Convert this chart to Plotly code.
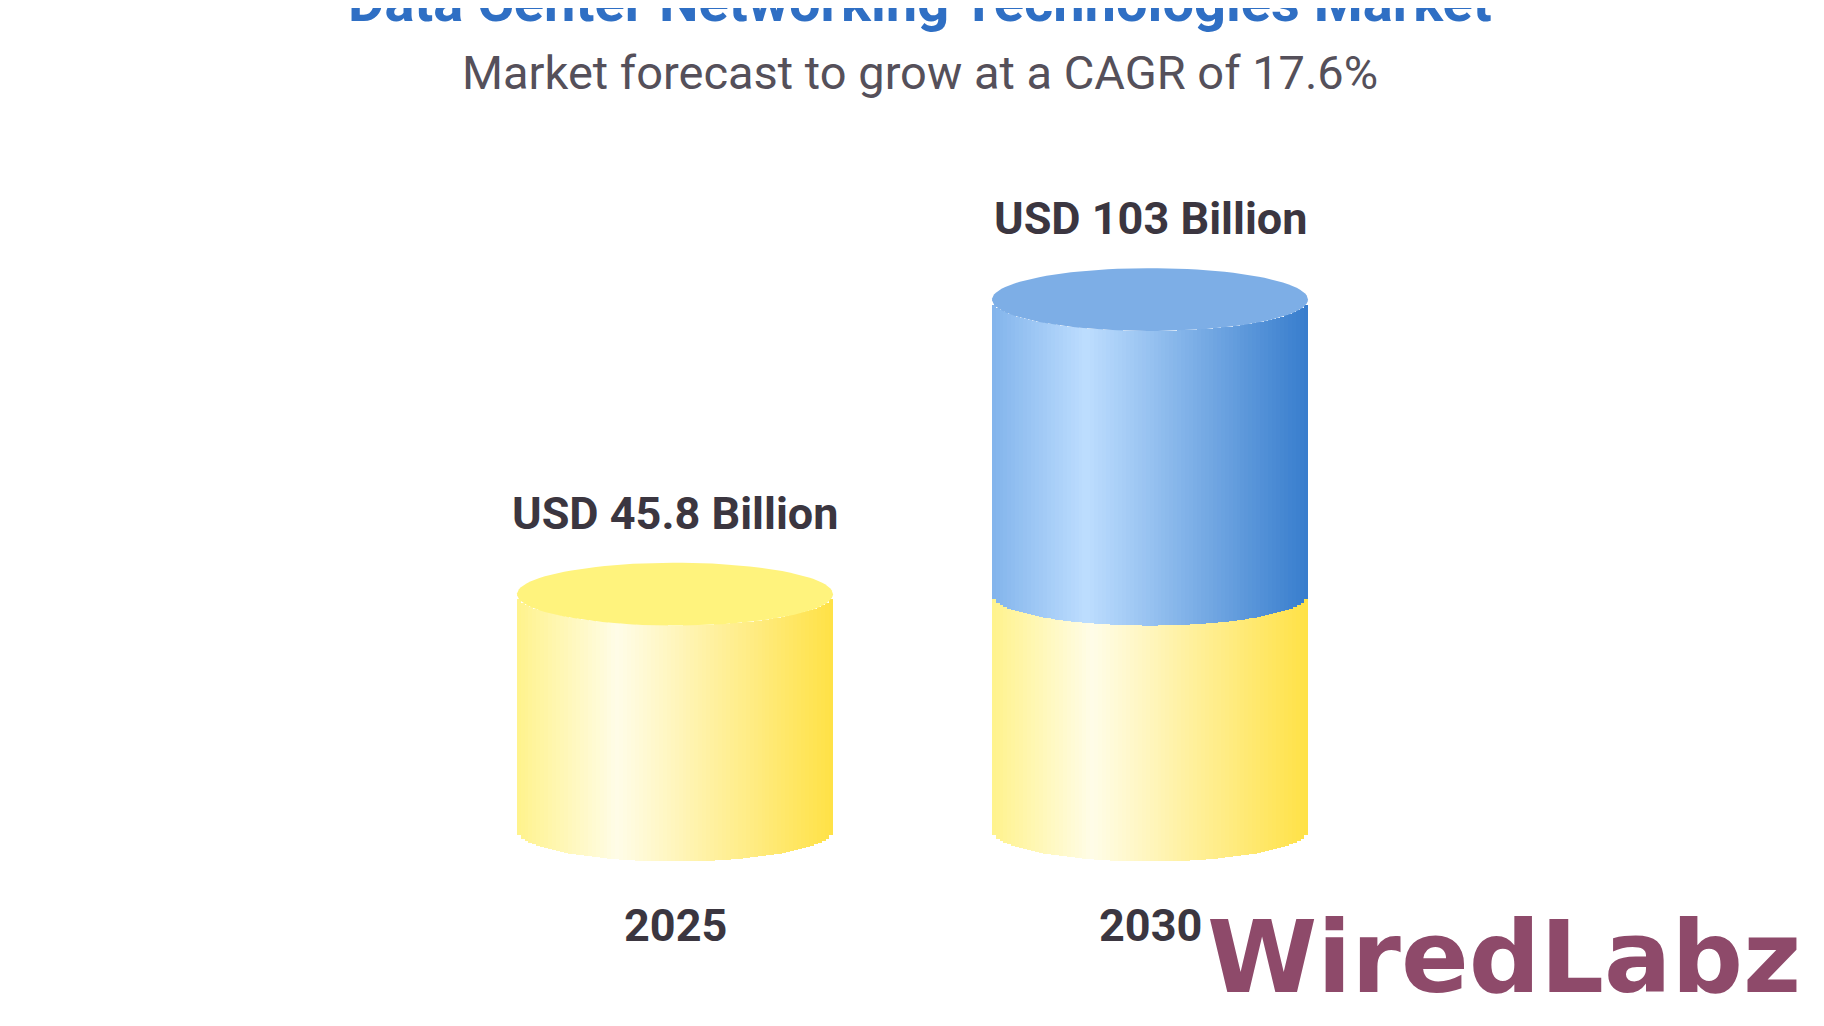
import numpy as np
import plotly.graph_objects as go

years = ["2025", "2030"]
totals = [45.8, 103]          # USD billion
base_value = 45.8              # 2025 market carried into 2030 stack
value_labels = ["USD 45.8 Billion", "USD 103 Billion"]
title = "Data Center Networking Technologies Market"
subtitle = "Market forecast to grow at a CAGR of 17.6%"

centers = [667, 1142]
half_w = 158
cap = 6.1      # ellipse half-height in data units
n_strips = 80
px_per_unit = 5.15
base_px = 822

yellow_stops = [(0, (255, 243, 140)), (0.32, (255, 253, 232)), (1, (255, 226, 70))]
blue_stops = [(0, (130, 180, 236)), (0.3, (190, 222, 255)), (1, (55, 125, 205))]


def grad(stops, t):
    for (t0, c0), (t1, c1) in zip(stops, stops[1:]):
        if t <= t1:
            f = (t - t0) / (t1 - t0)
            return "rgb(%d,%d,%d)" % tuple(a + (b - a) * f for a, b in zip(c0, c1))
    return "rgb(%d,%d,%d)" % stops[-1][1]


fig = go.Figure()


def body(cx, lo, hi, stops):
    edges = np.linspace(-1, 1, n_strips + 1)
    mids = (edges[:-1] + edges[1:]) / 2
    arc = cap * np.sqrt(1 - mids ** 2)
    fig.add_trace(go.Bar(
        x=cx + mids * half_w, y=[hi - lo] * n_strips, base=lo - arc,
        width=2 * half_w / n_strips + 0.8,
        marker=dict(color=[grad(stops, (m + 1) / 2) for m in mids], line_width=0),
        hoverinfo="skip", showlegend=False))


def top_cap(cx, y, color):
    a = np.linspace(0, 2 * np.pi, 100)
    fig.add_trace(go.Scatter(
        x=cx + half_w * np.cos(a), y=y + cap * np.sin(a), fill="toself",
        fillcolor=color, line=dict(width=0), mode="lines",
        hoverinfo="skip", showlegend=False))


body(centers[0], 0, totals[0], yellow_stops)
top_cap(centers[0], totals[0], "rgb(255,243,125)")
body(centers[1], 0, base_value, yellow_stops)
body(centers[1], base_value, totals[1], blue_stops)
top_cap(centers[1], totals[1], "rgb(125,174,230)")

for cx, t, lab, yr in zip(centers, totals, value_labels, years):
    fig.add_annotation(x=cx, y=t + 15.7, text="<b>" + lab + "</b>", showarrow=False,
                       font=dict(family="Roboto", size=45, color="#3b3640"))
    fig.add_annotation(x=cx, y=-18.6, text="<b>" + yr + "</b>", showarrow=False,
                       font=dict(family="Roboto", size=45, color="#3b3640"))

fig.add_annotation(x=0.5, y=1.006, xref="paper", yref="paper", yanchor="middle",
                   text="<b>" + title + "</b>", showarrow=False,
                   font=dict(family="Roboto", size=56, color="#2f6fc4"))
fig.add_annotation(x=0.5, y=0.937, xref="paper", yref="paper", yanchor="middle",
                   text=subtitle, showarrow=False,
                   font=dict(family="Roboto", size=47, color="#55505a"))
fig.add_annotation(x=1496, y=-24.7, text="<b>WiredLabz</b>", showarrow=False,
                   font=dict(family="DejaVu Sans", size=100, color="#8e4a6a"))

fig.update_layout(
    width=1824, height=1026, margin=dict(l=0, r=0, t=0, b=0),
    paper_bgcolor="white", plot_bgcolor="white", bargap=0, barmode="overlay",
    xaxis=dict(range=[0, 1824], visible=False, fixedrange=True),
    yaxis=dict(range=[-(1026 - base_px) / px_per_unit, base_px / px_per_unit],
               visible=False, fixedrange=True),
)
fig.write_html("out.html")
